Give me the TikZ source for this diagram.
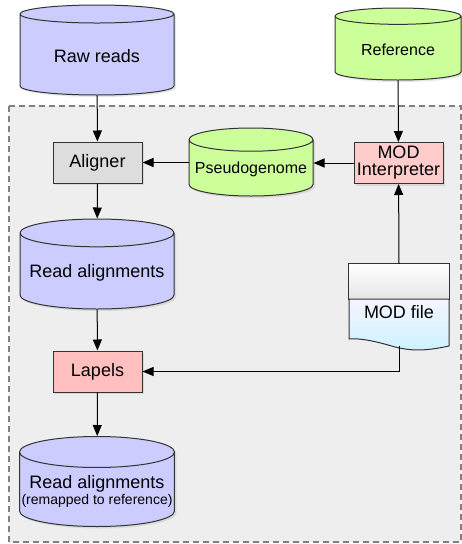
\documentclass[tikz,border=0pt]{standalone}
\usepackage{fontspec}
\setmainfont{Liberation Sans}
\usetikzlibrary{shapes.geometric,arrows.meta,shadows}

\definecolor{readblue}{HTML}{CCCCFF}
\definecolor{refgreen}{HTML}{CCFF99}
\definecolor{toolgray}{HTML}{DDDDDD}
\definecolor{modpink}{HTML}{FFCCCC}
\definecolor{lapelpink}{HTML}{FFBFBF}
\definecolor{framebg}{HTML}{EEEEEE}
\definecolor{edgegray}{HTML}{333333}

\begin{document}
\begin{tikzpicture}[
  x=1pt, y=-1pt,
  every node/.style={align=center, font=\fontsize{18}{20}\selectfont, inner sep=2pt},
  softshadow/.style={drop shadow={opacity=0.2, shadow xshift=2pt, shadow yshift=-2pt}},
  db/.style={cylinder, shape border rotate=90, aspect=0.2, anchor=shape center,
    draw=edgegray, line width=1pt, minimum width=154pt, minimum height=90pt, softshadow},
  tool/.style={rectangle, draw=edgegray, line width=1pt,
    minimum width=89pt, minimum height=41pt, softshadow},
  flow/.style={draw, line width=1pt, -{Triangle[length=11pt,width=9pt]}}
]
\useasboundingbox (0,0) rectangle (462,544);

% pipeline frame
\draw[fill=framebg, draw=gray, line width=2pt, dash pattern=on 6pt off 4pt]
  (9,106) rectangle (461,542);

\node[db, fill=readblue] (rawreads) at (97,50) {Raw reads};
\node[db, fill=refgreen, minimum width=126pt, minimum height=72pt, aspect=0.21,
  font=\fontsize{16}{18}\selectfont] (reference) at (398,44) {Reference};
\node[tool, fill=toolgray] (aligner) at (97.5,162.5) {Aligner};
\node[db, fill=refgreen, minimum width=124pt, minimum height=68pt,
  font=\fontsize{16}{18}\selectfont] (pseudo) at (251,162) {Pseudogenome};
\node[tool, fill=modpink, inner sep=0pt] (interp) at (398.5,163) {MOD\\[-3pt]Interpreter};
\node[db, fill=readblue] (alignments) at (97,264) {Read alignments};
\node[tool, fill=lapelpink] (lapels) at (97.5,371.5) {Lapels};
\node[db, fill=readblue] (remapped) at (97,481.5)
  {Read alignments\\[-4pt]{\fontsize{14}{16}\selectfont(remapped to reference)}};

% MOD file document
\node[minimum width=100pt, minimum height=82pt, inner sep=0pt] (modfile) at (399,305) {};
\shade[top color=white, bottom color=black!10, draw=edgegray, line width=1pt]
  (modfile.north west) rectangle (449,299);
\shade[top color=blue!4, bottom color=blue!25!cyan!20, draw=edgegray, line width=1pt]
  (349,299) -- (449,299) -- (449,346)
  .. controls (430,350) and (415,352) .. (395,347)
  .. controls (375,341) and (360,338) .. (349,339) -- cycle;
\node (modtext) at (399,312) {MOD file};

\draw[flow] (rawreads) -- (aligner);
\draw[flow] (reference) -- (interp);
\draw[flow] (interp.west) -- (interp.west -| pseudo.east);
\draw[flow] (aligner.east -| pseudo.west) -- (aligner.east);
\draw[flow] (aligner) -- (alignments);
\draw[flow] (alignments) -- (lapels);
\draw[flow] (lapels) -- (remapped);
\draw[flow] (modfile.north) -- (interp);
\draw[flow] (modfile.south) |- (lapels);
\end{tikzpicture}
\end{document}
